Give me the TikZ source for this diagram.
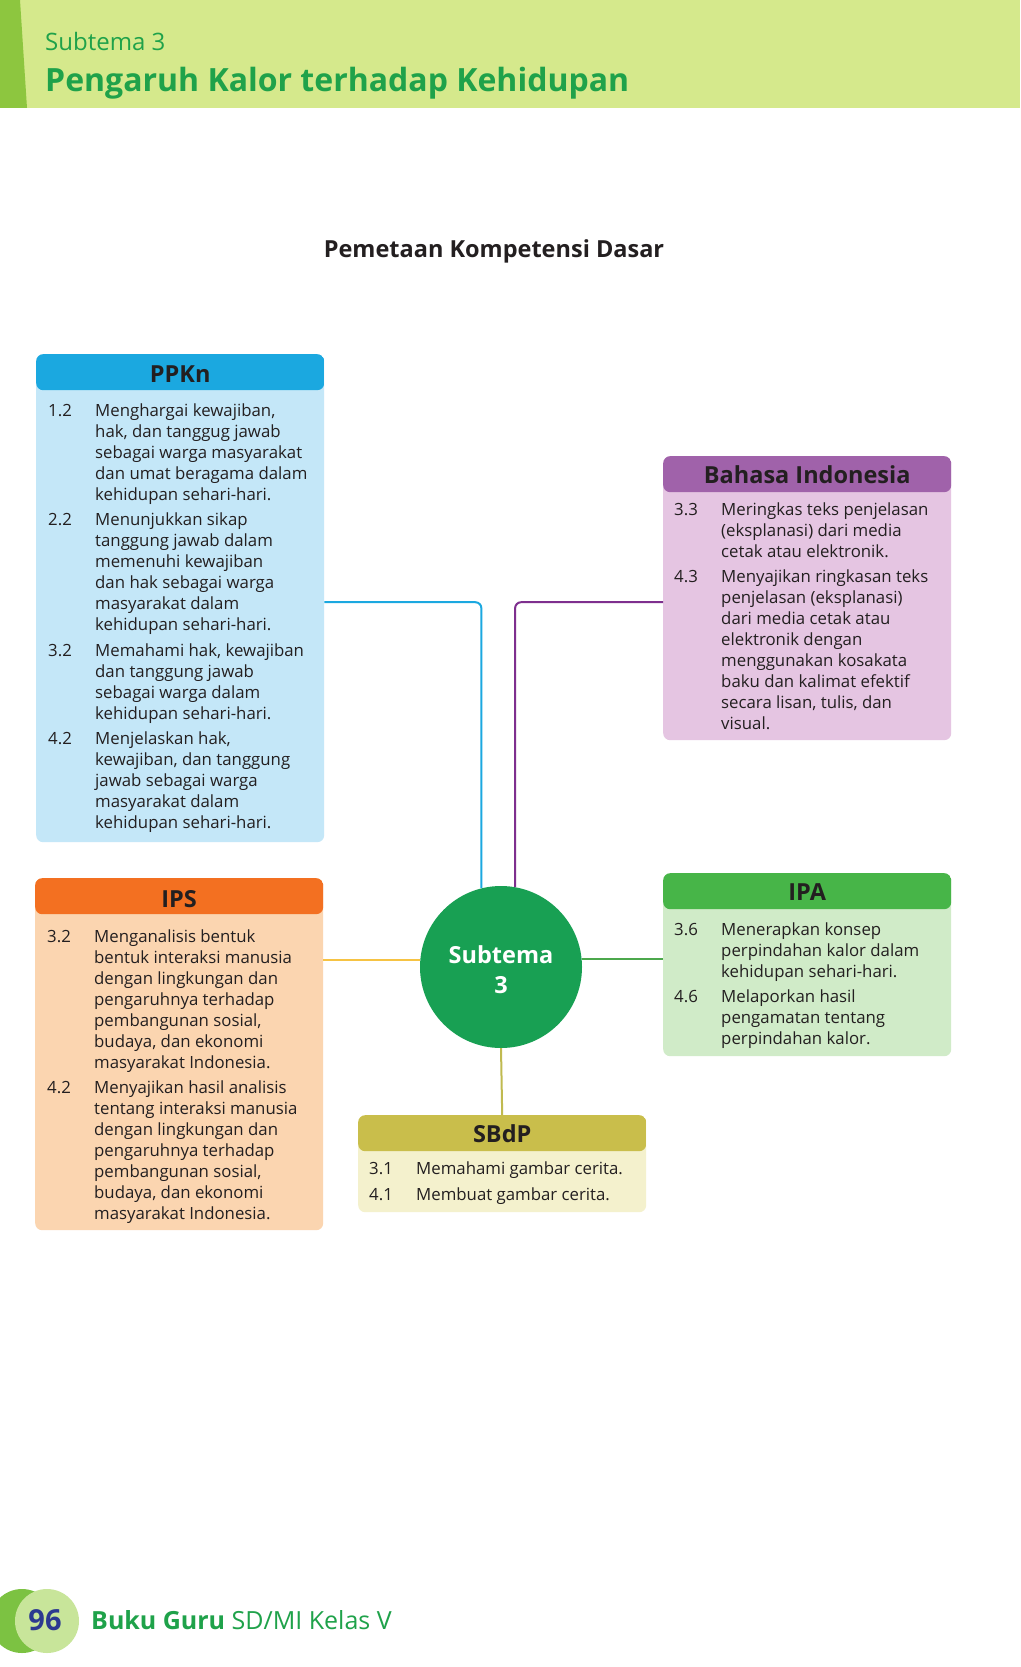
\documentclass[tikz,border=0pt]{standalone}
\usepackage{fontspec}
\setmainfont{Open Sans}
\usepackage{xcolor}
\usepackage{tikz}
\usetikzlibrary{positioning}

\definecolor{bandgreen}{HTML}{D5E98C}
\definecolor{stripegreen}{HTML}{8DC63F}
\definecolor{titlegreen}{HTML}{1FA24A}
\definecolor{bodytext}{HTML}{231F20}
\definecolor{ppknhead}{HTML}{1BA8E0}
\definecolor{ppknbody}{HTML}{C4E7F8}
\definecolor{bahasahead}{HTML}{A062AA}
\definecolor{bahasabody}{HTML}{E5C5E2}
\definecolor{bahasaline}{HTML}{7E2F8E}
\definecolor{ipshead}{HTML}{F37021}
\definecolor{ipsbody}{HTML}{FBD5B0}
\definecolor{ipsline}{HTML}{F6C343}
\definecolor{ipahead}{HTML}{47B548}
\definecolor{ipabody}{HTML}{D0EBC8}
\definecolor{ipaline}{HTML}{4CA84C}
\definecolor{sbdphead}{HTML}{C9BE4B}
\definecolor{sbdpbody}{HTML}{F4F1CD}
\definecolor{sbdpline}{HTML}{C0BA50}
\definecolor{circlegreen}{HTML}{18A053}
\definecolor{footdark}{HTML}{7CC242}
\definecolor{footlight}{HTML}{C8E59A}
\definecolor{navy}{HTML}{2B3990}

\tikzstyle{box} = [rectangle, rounded corners=7pt, minimum width=288pt,
    anchor=north west, inner sep=0pt]
\tikzstyle{head} = [font=\fontsize{23.5}{27}\selectfont\bfseries, text=bodytext]
\tikzstyle{kd} = [anchor=base west, inner sep=0pt,
    font=\fontsize{16.8}{21}\selectfont, text=bodytext]
\tikzstyle{link} = [line width=2pt, rounded corners=6pt]
\tikzset{headfill/.style={path picture={\fill[#1]
    (path picture bounding box.north west) rectangle
    ([yshift=-36pt]path picture bounding box.north east);}}}

% number column + text column
\newcommand{\kdtable}[1]{\begin{tabular}[t]{@{}p{47pt}@{}l@{}}#1\end{tabular}}

\begin{document}
\begin{tikzpicture}[x=1pt, y=-1pt]
  \useasboundingbox (0,0) rectangle (1020,1667);
  \fill[white] (0,0) rectangle (1020,1667);

  % Page header
  \fill[bandgreen] (0,0) rectangle (1020,108);
  \fill[stripegreen] (0,0) -- (20,0) -- (27,108) -- (0,108) -- cycle;
  \node[anchor=base west, inner sep=0pt, font=\fontsize{24}{28}\selectfont,
    text=titlegreen] (subtemalabel) at (45,51) {Subtema 3};
  \node[anchor=base west, inner sep=0pt, font=\fontsize{32}{38}\selectfont\bfseries,
    text=titlegreen] (judul) at (45,92) {Pengaruh Kalor terhadap Kehidupan};
  \node[font=\fontsize{23.5}{28}\selectfont\bfseries, text=bodytext]
    (peta) at (494,251) {Pemetaan Kompetensi Dasar};

  % Place nodes
  \node[box, fill=ppknbody, headfill=ppknhead, minimum height=488pt]
    (ppkn) at (36,354) {};
  \node[box, fill=bahasabody, headfill=bahasahead, minimum height=284pt]
    (bahasa) at (663,456) {};
  \node[box, fill=ipsbody, headfill=ipshead, minimum height=352pt]
    (ips) at (35,878) {};
  \node[box, fill=ipabody, headfill=ipahead, minimum height=183pt]
    (ipa) at (663,873) {};
  \node[box, fill=sbdpbody, headfill=sbdphead, minimum height=97pt]
    (sbdp) at (358,1115) {};
  \node[circle, fill=circlegreen, minimum size=162pt, text=white, align=center,
    font=\fontsize{23.5}{30}\selectfont\bfseries] (subtema) at (501,967)
    {\rule{0pt}{24pt}Subtema\\3};

  % Box titles
  \node[head] (ppknhead) at ([yshift=-20pt]ppkn.north) {PPKn};
  \node[head] (bahasahead) at ([yshift=-19pt]bahasa.north) {Bahasa Indonesia};
  \node[head] (ipshead) at ([yshift=-21pt]ips.north) {IPS};
  \node[head] (ipahead) at ([yshift=-19pt]ipa.north) {IPA};
  \node[head] (sbdphead) at ([yshift=-19pt]sbdp.north) {SBdP};

  % Box texts
  \node[kd] (ppkntext) at (48,416) {\kdtable{
    1.2 & Menghargai kewajiban,\\
        & hak, dan tanggug jawab\\
        & sebagai warga masyarakat\\
        & dan umat beragama dalam\\
        & kehidupan sehari-hari.\\[4.6pt]
    2.2 & Menunjukkan sikap\\
        & tanggung jawab dalam\\
        & memenuhi kewajiban\\
        & dan hak sebagai warga\\
        & masyarakat dalam\\
        & kehidupan sehari-hari.\\[4.6pt]
    3.2 & Memahami hak, kewajiban\\
        & dan tanggung jawab\\
        & sebagai warga dalam\\
        & kehidupan sehari-hari.\\[4.6pt]
    4.2 & Menjelaskan hak,\\
        & kewajiban, dan tanggung\\
        & jawab sebagai warga\\
        & masyarakat dalam\\
        & kehidupan sehari-hari.}};
  \node[kd] (bahasatext) at (674,515) {\kdtable{
    3.3 & Meringkas teks penjelasan\\
        & (eksplanasi) dari media\\
        & cetak atau elektronik.\\[4.6pt]
    4.3 & Menyajikan ringkasan teks\\
        & penjelasan (eksplanasi)\\
        & dari media cetak atau\\
        & elektronik dengan\\
        & menggunakan kosakata\\
        & baku dan kalimat efektif\\
        & secara lisan, tulis, dan\\
        & visual.}};
  \node[kd] (ipstext) at (47,942) {\kdtable{
    3.2 & Menganalisis bentuk\\
        & bentuk interaksi manusia\\
        & dengan lingkungan dan\\
        & pengaruhnya terhadap\\
        & pembangunan sosial,\\
        & budaya, dan ekonomi\\
        & masyarakat Indonesia.\\[4.6pt]
    4.2 & Menyajikan hasil analisis\\
        & tentang interaksi manusia\\
        & dengan lingkungan dan\\
        & pengaruhnya terhadap\\
        & pembangunan sosial,\\
        & budaya, dan ekonomi\\
        & masyarakat Indonesia.}};
  \node[kd] (ipatext) at (674,935) {\kdtable{
    3.6 & Menerapkan konsep\\
        & perpindahan kalor dalam\\
        & kehidupan sehari-hari.\\[4.6pt]
    4.6 & Melaporkan hasil\\
        & pengamatan tentang\\
        & perpindahan kalor.}};
  \node[kd] (sbdptext) at (369,1174) {\kdtable{
    3.1 & Memahami gambar cerita.\\[5pt]
    4.1 & Membuat gambar cerita.}};

  % Draw edges
  \draw[link, ppknhead] ([yshift=-4pt]ppkn.east) -| (subtema.104);
  \draw[link, bahasaline] ([yshift=-4pt]bahasa.west) -| (subtema.80);
  \draw[link, ipsline] (subtema.175) -- (subtema.175 -| ips.east);
  \draw[link, ipaline] (subtema.6) -- (subtema.6 -| ipa.west);
  \draw[link, sbdpline] (subtema.south) -- (sbdp.north);

  % Page footer
  \fill[footdark] (22,1621) circle (32);
  \fill[footlight] (47,1621) circle (32);
  \node[font=\fontsize{29}{33}\selectfont\bfseries, text=navy] (halaman) at (45,1620) {96};
  \node[anchor=west, inner sep=0pt, font=\fontsize{25}{30}\selectfont, text=titlegreen]
    (buku) at (91,1620) {\textbf{Buku Guru} SD/MI Kelas V};
\end{tikzpicture}
\end{document}
